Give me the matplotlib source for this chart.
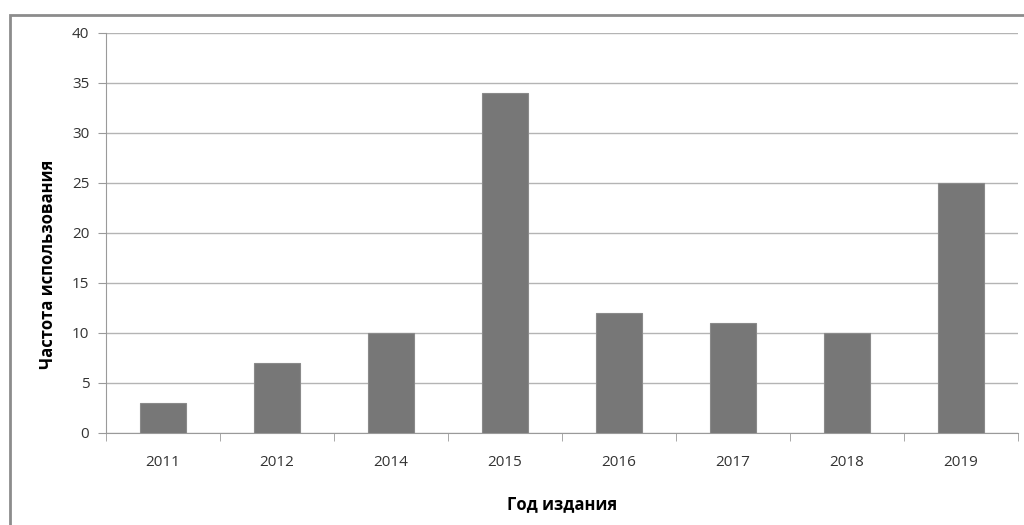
import matplotlib.pyplot as plt
import matplotlib.patches as patches
import numpy as np

plt.rcParams['font.family'] = ['Open Sans', 'DejaVu Sans']

years = ['2011', '2012', '2014', '2015', '2016', '2017', '2018', '2019']
counts = [3, 7, 10, 34, 12, 11, 10, 25]

fig = plt.figure(figsize=(10.24, 5.25), dpi=100)
# рамка диаграммы
fig.patches.append(patches.Rectangle((10 / 1024, -0.1), 1.2, 1 - 15 / 525 + 0.1,
                                     transform=fig.transFigure, fill=False,
                                     edgecolor='#8c8c8c', linewidth=2))

ax = fig.add_axes([106 / 1024, 92 / 525, 912 / 1024, 400 / 525])
x = np.arange(len(years))
ax.bar(x, counts, width=0.4, color='#777777', edgecolor='#8a8a8a', linewidth=0.8, zorder=3)

ax.set_xlim(-0.5, len(years) - 0.5)
ax.set_ylim(0, 40)
ax.set_yticks(range(0, 41, 5))
ax.yaxis.grid(True, color='#b4b4b4', linewidth=1)
ax.set_axisbelow(True)

ax.set_xticks(x)
ax.set_xticklabels(years)
ax.set_xticks(np.arange(-0.5, len(years)), minor=True)
ax.tick_params(axis='x', which='major', length=0, pad=16, labelsize=11, labelcolor='#333333')
ax.tick_params(axis='x', which='minor', length=6, color='#9a9a9a', direction='out')
ax.tick_params(axis='y', length=6, color='#9a9a9a', labelsize=11, labelcolor='#333333', pad=6)

for s in ['top', 'right']:
    ax.spines[s].set_visible(False)
ax.spines['left'].set_color('#9a9a9a')
ax.spines['bottom'].set_color('#9a9a9a')

ax.set_ylabel('Частота использования', fontsize=12, fontweight='bold')
ax.yaxis.set_label_coords(-0.054, 0.4225)
ax.set_xlabel('Год издания', fontsize=12, fontweight='bold', labelpad=18)

fig.savefig('out.png', dpi=100)
